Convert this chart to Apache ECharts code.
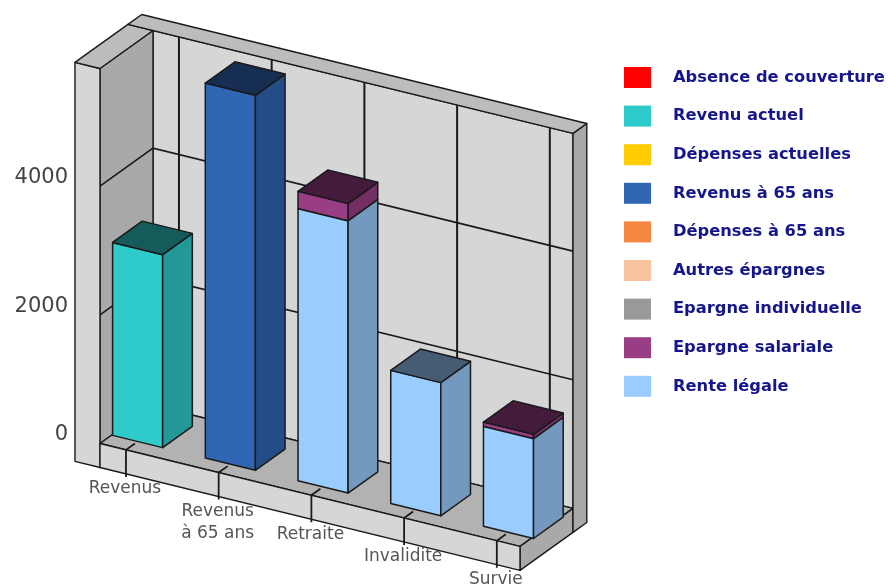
<!DOCTYPE html>
<html>
<head>
<meta charset="utf-8">
<style>html,body{margin:0;padding:0;background:#fff}#c{width:888px;height:585px}</style>
<script src="https://cdn.jsdelivr.net/npm/echarts@6/dist/echarts.min.js"></script>
</head>
<body>
<div id="c"></div>
<script>
var categories = ['Revenus', 'Revenus\nà 65 ans', 'Retraite', 'Invalidite', 'Survie'];
var yTicks = [0, 2000, 4000];
var legendNames = ['Absence de couverture', 'Revenu actuel', 'Dépenses actuelles', 'Revenus à 65 ans', 'Dépenses à 65 ans', 'Autres épargnes', 'Epargne individuelle', 'Epargne salariale', 'Rente légale'];
var colors = ['#ff0000', '#2fcbcb', '#ffcc00', '#3066b4', '#f58640', '#f8c4a0', '#999999', '#993d85', '#99ccff'];
var absence = [0, 0, 0, 0, 0];
var revenuActuel = [3000, 0, 0, 0, 0];
var depensesActuelles = [0, 0, 0, 0, 0];
var revenus65 = [0, 5830, 0, 0, 0];
var depenses65 = [0, 0, 0, 0, 0];
var autresEpargnes = [0, 0, 0, 0, 0];
var epargneIndividuelle = [0, 0, 0, 0, 0];
var epargneSalariale = [0, 0, 270, 0, 70];
var renteLegale = [0, 0, 4230, 2070, 1550];
var seriesValues = [absence, revenuActuel, depensesActuelles, revenus65, depenses65, autresEpargnes, epargneIndividuelle, epargneSalariale, renteLegale];

var AX = { xMin: -0.28, xMax: 4.25, xOuter: -0.55, top: 5830, under: -373 };
var SHEAR = 0.245, DEPTH_X = 53, DEPTH_Y = -38, LIP = 1.26;
var INK = '#1a1a1a';
var FONT = '"DejaVu Sans"';

function P(api, x, v, t) {
  var p = api.coord([x, v]);
  return [p[0] + DEPTH_X * t, p[1] + SHEAR * (p[0] - 100) + 8.5 + DEPTH_Y * t];
}
function shade(hex, f) {
  var n = parseInt(hex.slice(1), 16);
  var r = Math.round((n >> 16 & 255) * f), g = Math.round((n >> 8 & 255) * f), b = Math.round((n & 255) * f);
  return 'rgb(' + r + ',' + g + ',' + b + ')';
}
function poly(points, fill, w) {
  return { type: 'polygon', shape: { points: points }, style: { fill: fill, stroke: INK, lineWidth: w || 1.4, lineJoin: 'round' } };
}
function line(points, w) {
  return { type: 'polyline', shape: { points: points }, style: { fill: 'none', stroke: INK, lineWidth: w || 1.6 } };
}

function renderFrame(params, api) {
  var a = AX, c = [];
  var p = function (x, v, t) { return P(api, x, v, t); };
  var wall = '#d6d6d6', dark = '#a9a9a9', cap = '#bcbcbc';
  c.push(poly([p(a.xMin, 0, 1), p(a.xMax, 0, 1), p(a.xMax, a.top, 1), p(a.xMin, a.top, 1)], wall));
  c.push(poly([p(a.xMin, 0, 0), p(a.xMin, 0, 1), p(a.xMin, a.top, 1), p(a.xMin, a.top, 0)], dark));
  c.push(poly([p(a.xMin, 0, 0), p(a.xMax, 0, 0), p(a.xMax, 0, 1), p(a.xMin, 0, 1)], '#b2b2b2'));
  c.push(poly([p(a.xMax, 0, 0), p(a.xMax, 0, 1), p(a.xMax, a.under, 1), p(a.xMax, a.under, 0)], dark));
  c.push(poly([p(a.xMax, a.top, 1), p(a.xMax, a.top, LIP), p(a.xMax, a.under, LIP), p(a.xMax, a.under, 1)], dark));
  c.push(poly([p(a.xOuter, a.under, 0), p(a.xMin, a.under, 0), p(a.xMin, a.top, 0), p(a.xOuter, a.top, 0)], wall));
  c.push(poly([p(a.xMin, a.under, 0), p(a.xMax, a.under, 0), p(a.xMax, 0, 0), p(a.xMin, 0, 0)], wall));
  c.push(poly([p(a.xOuter, a.top, 0), p(a.xOuter, a.top, 1), p(a.xMin, a.top, 1), p(a.xMin, a.top, 0)], cap));
  c.push(poly([p(a.xOuter, a.top, 1), p(a.xOuter, a.top, LIP), p(a.xMax, a.top, LIP), p(a.xMax, a.top, 1)], cap));
  yTicks.forEach(function (v) {
    if (!v) return;
    c.push(line([p(a.xMin, v, 0), p(a.xMin, v, 1), p(a.xMax, v, 1)]));
  });
  categories.forEach(function (n, i) {
    c.push(line([p(i, 0, 1), p(i, a.top, 1)], 2));
    c.push(line([p(i, 0, 0.17), p(i, 0, 0), p(i, -420, 0)], 1.8));
    var end = p(i, -420, 0);
    c.push({ type: 'text', style: { text: n, x: end[0] - 1, y: end[1] + 1, align: 'center', verticalAlign: 'top', fill: '#555555', font: '17px ' + FONT, lineHeight: 22 } });
  });
  return { type: 'group', children: c };
}

function makeBarRenderer(s) {
  return function (params, api) {
    var i = params.dataIndex, value = seriesValues[s][i];
    if (!value) return null;
    var base = 0, above = 0, k;
    for (k = s + 1; k < seriesValues.length; k++) base += seriesValues[k][i];
    for (k = 0; k < s; k++) above += seriesValues[k][i];
    var top = base + value, x0 = i - 0.27, x1 = i + 0.27, t0 = 0.22, t1 = 0.78;
    var p = function (x, v, t) { return P(api, x, v, t); };
    var col = colors[s], c = [];
    c.push(poly([p(x0, base, t0), p(x1, base, t0), p(x1, top, t0), p(x0, top, t0)], col, 1.5));
    c.push(poly([p(x1, base, t0), p(x1, base, t1), p(x1, top, t1), p(x1, top, t0)], shade(col, 0.75), 1.5));
    if (!above) c.push(poly([p(x0, top, t0), p(x1, top, t0), p(x1, top, t1), p(x0, top, t1)], shade(col, 0.45), 1.5));
    return { type: 'group', children: c };
  };
}

var series = [{
  type: 'custom', name: 'cadre', coordinateSystem: 'cartesian2d', silent: true, z: 1, clip: false,
  data: [[0, 0]], renderItem: renderFrame, tooltip: { show: false }
}];
legendNames.forEach(function (name, s) {
  series.push({
    type: 'custom', name: name, coordinateSystem: 'cartesian2d', z: 2, clip: false,
    itemStyle: { color: colors[s] },
    data: seriesValues[s].map(function (v, i) { return [i, v]; }),
    renderItem: makeBarRenderer(s)
  });
});

var chart = echarts.init(document.getElementById('c'));
chart.setOption({
  animation: false,
  backgroundColor: '#ffffff',
  grid: { left: 100, top: 60, width: 420, height: 375 },
  xAxis: { type: 'value', min: AX.xMin, max: AX.xMax, show: false },
  yAxis: {
    type: 'value', min: 0, max: AX.top, interval: 2000,
    axisLine: { show: false }, axisTick: { show: false }, splitLine: { show: false },
    axisLabel: { customValues: yTicks, margin: 32, color: '#444444', fontFamily: FONT, fontSize: 21, formatter: function (v) { return String(v); } }
  },
  legend: {
    orient: 'vertical', left: 624, top: 67, padding: 0, itemWidth: 27, itemHeight: 21, itemGap: 17.6,
    icon: 'rect', selectedMode: false, data: legendNames,
    textStyle: { color: '#16168c', fontFamily: FONT, fontWeight: 'bold', fontSize: 16.3, padding: [0, 0, 0, 17] }
  },
  series: series
});
</script>
</body>
</html>
